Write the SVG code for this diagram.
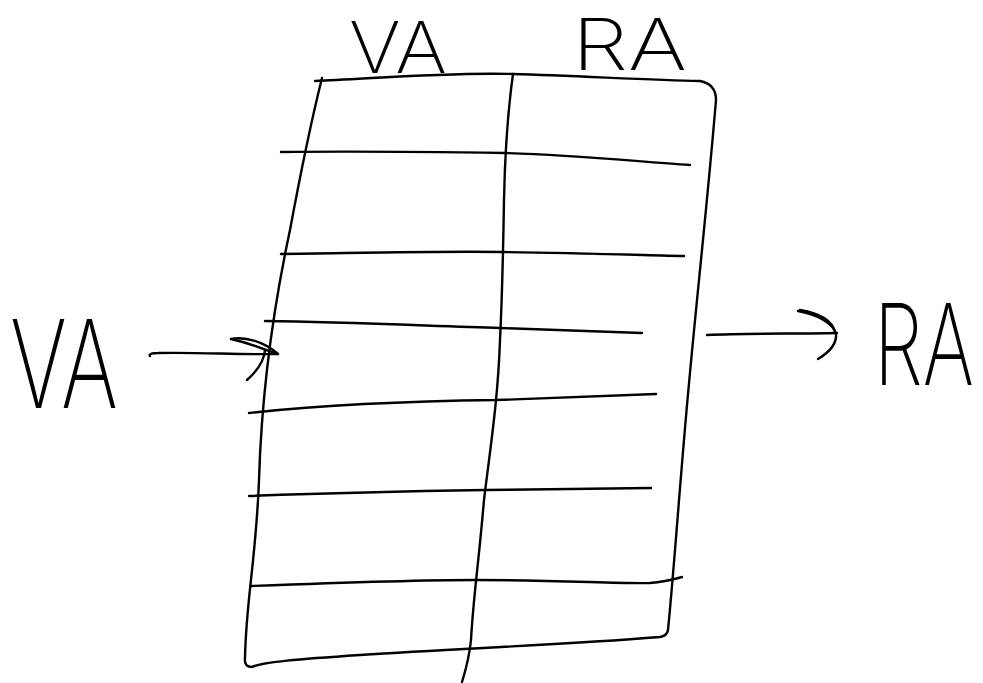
<svg xmlns="http://www.w3.org/2000/svg" width="983" height="683" viewBox="0 0 983 683">
<style>
.ink{fill:none;stroke:#000;stroke-width:2.4;stroke-linecap:round;stroke-linejoin:round}
.hw{font-family:Inter,"Liberation Sans",sans-serif;font-weight:200;fill:#000}
</style>
<rect width="983" height="683" fill="#fff"/>
<g id="table">
<path class="ink" d="M315,81 C380,78 450,72 513,74 C580,76 650,80 700,81 Q716,84 716,100 C706,220 693,330 684,440 C678,510 673,580 668,630 Q667,636 660,637 C560,645 470,648 360,655 C300,659 262,662 252,667 Q244,667 245,658 C246,600 256,560 259,480 C262,380 275,300 290,230 C303,160 314,110 322,78"/>
<path class="ink" d="M513,74 C508,110 505,150 504,200 C503,260 502,300 500,340 C498,400 490,450 484,500 C479,560 473,600 471,640 C469,660 465,672 462,682"/>
<path class="ink" d="M281,152 C360,151 440,152 505,153 C580,155 640,162 690,165"/>
<path class="ink" d="M281,254 C360,253 440,251 502,252 C580,253 640,255 684,256"/>
<path class="ink" d="M265,321 C350,322 430,326 500,328 C560,330 610,332 642,333"/>
<path class="ink" d="M249,413 C330,404 420,401 497,400 C560,398 620,395 656,394"/>
<path class="ink" d="M249,496 C330,493 420,491 485,490 C560,489 620,488 651,488"/>
<path class="ink" d="M251,586 C330,583 420,580 476,580 C560,580 620,584 650,583 C665,582 675,579 682,577"/>
</g>
<g id="connectors">
<path class="ink" d="M150,356 Q148,353 158,353 C200,352 240,355 278,354"/>
<path class="ink" d="M231,339 C245,336 265,342 278,354 C268,352 258,345 231,339"/>
<path class="ink" d="M265,350 C264,362 256,372 247,380"/>
<path class="ink" d="M707,335 C750,333 795,334 837,333"/>
<path class="ink" d="M798,311 C815,314 833,322 836,334 C837,345 828,353 818,359"/>
<path class="ink" d="M800,310 C818,313 832,320 835,332"/>
</g>
<g id="labels">
<text class="hw" x="349" y="73" font-size="72" textLength="98" lengthAdjust="spacingAndGlyphs">VA</text>
<text class="hw" x="572" y="70" font-size="72" textLength="115" lengthAdjust="spacingAndGlyphs">RA</text>
<text class="hw" transform="translate(10,408) scale(1,1.5)" font-size="82" textLength="108" lengthAdjust="spacingAndGlyphs">VA</text>
<text class="hw" transform="translate(874,385) scale(1,1.45)" font-size="78" textLength="100" lengthAdjust="spacingAndGlyphs">RA</text>
</g>
</svg>
